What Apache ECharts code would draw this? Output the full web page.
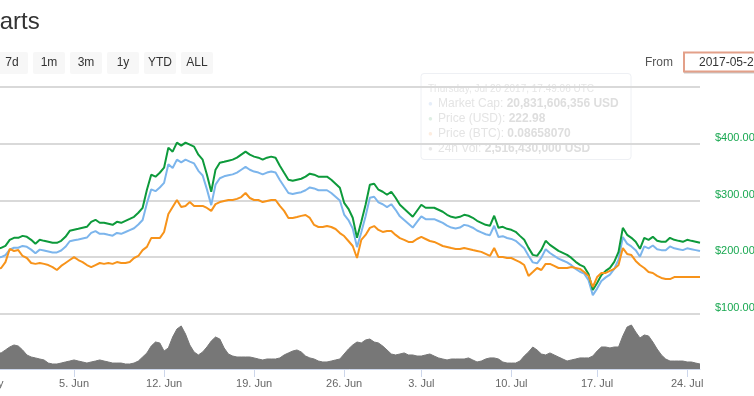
<!DOCTYPE html>
<html><head><meta charset="utf-8">
<script src="https://cdn.jsdelivr.net/npm/echarts@6/dist/echarts.min.js"></script>
<style>html,body{margin:0;padding:0;background:#fff;overflow:hidden}#c{width:754px;height:396px}</style>
</head><body><div id="c"></div>
<script>
// ---- x axis: week tick labels and number of (ordinal) samples in each week ----
const weekLabels = ['29. May','5. Jun','12. Jun','19. Jun','26. Jun','3. Jul','10. Jul','17. Jul','24. Jul'];
const samplesPerWeek = [21,21,21,21,18,21,20,21,4];

// ---- series values ----
const priceUSD = [
215.9,214.2,217.7,214.2,215.9,219.5,230.1,233.6,233.6,237.1,
235.4,230.1,223.0,230.1,228.3,226.6,224.8,224.8,228.3,235.4,
246.0,247.8,249.5,251.3,253.1,261.9,265.5,260.2,260.2,258.4,
256.6,261.9,260.2,263.7,267.2,270.8,277.9,286.7,318.6,345.1,
341.6,348.6,357.5,392.9,385.8,401.8,396.5,401.8,398.2,394.7,
380.5,371.7,345.1,315.0,354.0,366.4,368.1,369.9,371.7,375.2,
380.5,385.8,380.5,377.0,375.2,371.7,375.2,377.0,375.2,361.0,
348.6,336.3,334.5,336.3,338.0,341.6,346.9,345.1,341.6,341.6,
341.6,336.3,329.2,322.1,295.5,284.9,269.0,233.6,261.9,292.0,
327.4,329.2,318.6,315.0,309.7,315.0,304.4,292.0,284.9,277.9,
270.8,281.4,292.0,286.7,286.7,286.7,283.2,279.7,274.3,270.8,
269.0,270.8,274.3,272.6,269.0,263.7,260.2,256.6,254.9,272.6,
251.3,253.1,249.5,247.8,244.2,237.1,230.1,215.9,203.5,201.8,
212.4,228.3,221.2,215.9,210.6,207.1,203.5,198.2,191.2,185.8,
182.3,169.9,141.6,154.0,168.1,175.2,180.5,191.2,208.8,251.3,
238.9,233.6,226.6,214.2,233.6,230.1,235.4,228.3,226.6,226.6,
233.6,230.1,228.3,226.6,230.1,228.3,226.6,224.8];

const marketCapB = [
19.97,19.81,20.14,19.81,19.97,20.30,21.28,21.61,21.61,21.93,
21.77,21.28,20.63,21.28,21.12,20.96,20.79,20.79,21.12,21.77,
22.76,22.92,23.08,23.25,23.41,24.23,24.56,24.07,24.07,23.90,
23.74,24.23,24.07,24.39,24.72,25.05,25.71,26.52,29.47,31.92,
31.60,32.25,33.07,36.34,35.69,37.17,36.68,37.17,36.83,36.51,
35.20,34.38,31.92,29.14,32.75,33.89,34.23,34.40,34.57,34.89,
35.39,35.88,35.39,35.06,34.89,34.57,34.89,35.06,34.89,33.57,
32.42,31.28,31.11,31.28,31.43,31.77,32.26,32.09,31.77,31.77,
31.77,31.28,30.62,29.96,27.48,26.50,25.02,21.72,24.36,27.16,
30.45,30.62,29.63,29.30,28.80,29.30,28.31,27.16,26.50,25.84,
25.18,26.17,27.16,26.66,26.66,26.66,26.34,26.01,25.51,25.18,
25.02,25.18,25.65,25.49,25.15,24.66,24.33,23.99,23.83,25.49,
23.50,23.66,23.33,23.17,22.83,22.17,21.51,20.19,19.03,18.87,
19.86,21.35,20.68,20.19,19.69,19.36,19.03,18.53,17.88,17.37,
17.05,15.89,13.24,14.40,15.72,16.38,16.88,17.88,19.52,23.50,
22.34,21.84,21.19,20.03,21.84,21.51,22.01,21.35,21.19,21.19,
21.84,21.51,21.35,21.19,21.51,21.35,21.19,21.02];

const priceBTC = [
0.0851,0.0842,0.0860,0.0847,0.0851,0.0877,0.0935,0.0926,0.0930,0.0904,
0.0895,0.0873,0.0869,0.0873,0.0869,0.0864,0.0855,0.0842,0.0860,0.0873,
0.0886,0.0899,0.0886,0.0877,0.0864,0.0855,0.0864,0.0873,0.0869,0.0873,
0.0869,0.0877,0.0873,0.0873,0.0877,0.0895,0.0904,0.0930,0.0944,0.0983,
0.0983,0.0983,0.1010,0.1089,0.1120,0.1151,0.1120,0.1125,0.1142,0.1125,
0.1125,0.1125,0.1116,0.1103,0.1133,0.1142,0.1147,0.1151,0.1151,0.1156,
0.1164,0.1182,0.1160,0.1151,0.1151,0.1142,0.1147,0.1151,0.1151,0.1125,
0.1103,0.1072,0.1072,0.1076,0.1081,0.1085,0.1072,0.1041,0.1032,0.1032,
0.1036,0.1032,0.1023,0.1005,0.0992,0.0970,0.0948,0.0895,0.0975,0.0997,
0.1028,0.1036,0.1019,0.1010,0.1014,0.1014,0.0997,0.0983,0.0975,0.0966,
0.0966,0.0979,0.0988,0.0979,0.0970,0.0966,0.0957,0.0948,0.0944,0.0939,
0.0935,0.0935,0.0939,0.0935,0.0930,0.0926,0.0922,0.0913,0.0904,0.0939,
0.0899,0.0899,0.0895,0.0895,0.0886,0.0877,0.0864,0.0816,0.0833,0.0851,
0.0842,0.0869,0.0869,0.0860,0.0851,0.0851,0.0851,0.0855,0.0851,0.0847,
0.0833,0.0816,0.0767,0.0811,0.0829,0.0829,0.0838,0.0847,0.0864,0.0939,
0.0913,0.0908,0.0882,0.0864,0.0851,0.0833,0.0829,0.0816,0.0807,0.0802,
0.0802,0.0811,0.0811,0.0811,0.0811,0.0811,0.0811,0.0811];

const volumeB = [
1.26,1.26,1.19,1.19,1.19,1.41,1.63,1.78,1.70,1.41,
1.04,0.89,0.82,0.74,0.67,0.44,0.37,0.37,0.44,0.52,
0.59,0.67,0.59,0.52,0.44,0.52,0.59,0.67,0.59,0.52,
0.44,0.44,0.44,0.37,0.37,0.44,0.59,0.89,1.19,1.70,
2.00,1.93,1.33,1.56,2.37,2.96,3.19,2.59,1.78,1.26,
1.04,1.26,1.63,2.07,2.37,2.22,1.56,1.11,0.96,0.89,
0.89,0.89,0.89,0.82,0.74,0.67,0.74,0.74,0.74,0.82,
1.04,1.19,1.33,1.41,1.26,0.96,0.82,0.74,0.59,0.52,
0.52,0.59,0.67,0.74,1.11,1.48,1.78,2.00,1.93,2.15,
2.22,2.00,1.93,1.70,1.41,1.11,1.04,1.11,1.19,1.04,
1.04,0.96,0.96,1.04,1.11,0.96,0.82,0.74,0.67,0.74,
0.74,0.74,0.74,0.82,0.67,0.52,0.59,0.74,0.82,0.82,
0.74,0.52,0.44,0.44,0.44,0.59,0.96,1.26,1.63,1.41,
1.11,1.04,1.19,1.04,0.89,0.74,0.59,0.67,0.74,0.82,
0.82,0.82,0.96,1.33,1.63,1.63,1.56,1.63,1.63,2.45,
3.11,3.26,2.74,2.30,2.52,2.45,2.00,1.48,1.04,0.74,
0.59,0.59,0.59,0.59,0.52,0.52,0.44,0.37];

const usdTicks = [100,200,300,400,500];
const rangeButtons = ['7d','1m','3m','1y','YTD','ALL'];
const tooltipTitle = 'Thursday, Jul 20 2017, 17:49:06 UTC';
const tooltipRows = [
  ['Market Cap: ','20,831,606,356 USD'],
  ['Price (USD): ','222.98'],
  ['Price (BTC): ','0.08658070'],
  ['24h Vol: ','2,516,430,000 USD']
];

// ---- build categories ----
const categories = [];
const tickMap = new Map();
weekLabels.forEach((lab, w) => {
  tickMap.set(categories.length, lab);
  for (let s = 0; s < samplesPerWeek[w]; s++) categories.push(lab + ' +' + (s * 8) + 'h');
});

const FONT = '"Liberation Sans", Arial, Helvetica, sans-serif';
const GREEN = '#0d9a3b', BLUE = '#7cb5ec', ORANGE = '#f7931a', LABEL_GREEN = '#19a851';

const chart = echarts.init(document.getElementById('c'), null, {renderer: 'canvas'});

const graphics = [];
graphics.push({type:'text', style:{text:'Charts', x:-31, y:22, font:'24px ' + FONT, fill:'#333',
  textVerticalAlign:'middle', verticalAlign:'middle'}});
rangeButtons.forEach((b, i) => {
  const x = -4 + i * 37;
  graphics.push({type:'rect', shape:{x:x, y:52, width:32, height:22, r:2}, style:{fill:'#f7f7f7'}});
  graphics.push({type:'text', style:{text:b, x:x + 16, y:63, font:'12px ' + FONT, fill:'#333',
    textAlign:'center', align:'center', textVerticalAlign:'middle', verticalAlign:'middle'}});
});
graphics.push({type:'text', style:{text:'From', x:645, y:63, font:'12px ' + FONT, fill:'#555',
  textVerticalAlign:'middle', verticalAlign:'middle'}});
graphics.push({type:'rect', shape:{x:684, y:72, width:72, height:1.5}, style:{fill:'#c9c9c9'}});
graphics.push({type:'rect', shape:{x:684, y:52.5, width:80, height:19}, style:{fill:'#fff', stroke:'#e3a089', lineWidth:2}});
graphics.push({type:'text', style:{text:'2017-05-24', x:699, y:62.5, font:'12px ' + FONT, fill:'#333',
  textVerticalAlign:'middle', verticalAlign:'middle'}});
// faded tooltip
graphics.push({type:'rect', shape:{x:421, y:73.5, width:210, height:86, r:3},
  style:{fill:'rgba(255,255,255,0.25)', stroke:'#eef0f4', lineWidth:1}});
graphics.push({type:'text', style:{text:tooltipTitle, x:428, y:89, font:'10px ' + FONT, fill:'#e6e6e6',
  textVerticalAlign:'middle', verticalAlign:'middle'}});
const dotColors = ['#e6eef9','#dfefe4','#fdede0','#e8e8e8'];
tooltipRows.forEach((r, i) => {
  const y = 104 + i * 15;
  graphics.push({type:'text', style:{text:'\u25CF', x:428, y:y, font:'8px ' + FONT, fill:dotColors[i],
    textVerticalAlign:'middle', verticalAlign:'middle'}});
  graphics.push({type:'text', style:{text:'{a|' + r[0] + '}{b|' + r[1] + '}', x:438, y:y,
    textVerticalAlign:'middle', verticalAlign:'middle',
    rich:{a:{font:'12px ' + FONT, fill:'#e4e4e4'}, b:{font:'bold 12px ' + FONT, fill:'#dedede'}}}});
});

const option = {
  animation: false,
  backgroundColor: '#fff',
  grid: [
    {left:-16, right:54, top:87, height:226.5, outerBoundsMode:'none', containLabel:false},
    {left:-16, right:54, top:315, height:54, outerBoundsMode:'none', containLabel:false}
  ],
  xAxis: [
    {type:'category', gridIndex:0, data:categories, boundaryGap:false, show:false},
    {type:'category', gridIndex:1, data:categories, boundaryGap:false,
     axisLine:{lineStyle:{color:'#ccd6eb', width:1}},
     axisTick:{interval:(i) => tickMap.has(i), length:8, lineStyle:{color:'#ccd6eb'}},
     axisLabel:{interval:(i) => tickMap.has(i), formatter:(v, i) => tickMap.get(i) || '',
       color:'#666', fontSize:11, fontFamily:FONT, margin:9},
     splitLine:{show:false}}
  ],
  yAxis: [
    {type:'value', gridIndex:0, position:'right', min:usdTicks[0], max:usdTicks[usdTicks.length-1], interval:100,
     axisLine:{show:false}, axisTick:{show:false},
     splitLine:{lineStyle:{color:'#d9d9d9', width:2}},
     axisLabel:{formatter:(v) => '$' + v.toFixed(2), color:LABEL_GREEN, fontSize:11, fontFamily:FONT,
       margin:15, verticalAlign:'bottom', showMaxLabel:false}},
    {type:'value', gridIndex:0, position:'left', min:10, max:50, show:false},
    {type:'value', gridIndex:0, position:'left', min:0.065, max:0.165, show:false},
    {type:'value', gridIndex:1, min:0, max:4, show:false}
  ],
  series: [
    {name:'Market Cap', type:'line', xAxisIndex:0, yAxisIndex:1, data:marketCapB, showSymbol:false, symbol:'none',
     lineStyle:{color:BLUE, width:2}, itemStyle:{color:BLUE}},
    {name:'Price (USD)', type:'line', xAxisIndex:0, yAxisIndex:0, data:priceUSD, showSymbol:false, symbol:'none',
     lineStyle:{color:GREEN, width:2}, itemStyle:{color:GREEN}},
    {name:'Price (BTC)', type:'line', xAxisIndex:0, yAxisIndex:2, data:priceBTC, showSymbol:false, symbol:'none',
     lineStyle:{color:ORANGE, width:2}, itemStyle:{color:ORANGE}},
    {name:'24h Vol', type:'line', xAxisIndex:1, yAxisIndex:3, data:volumeB, showSymbol:false, symbol:'none',
     lineStyle:{color:'#777', width:1}, itemStyle:{color:'#777'}, areaStyle:{color:'#777', opacity:1}}
  ],
  graphic: {elements: graphics}
};
chart.setOption(option);
</script></body></html>
